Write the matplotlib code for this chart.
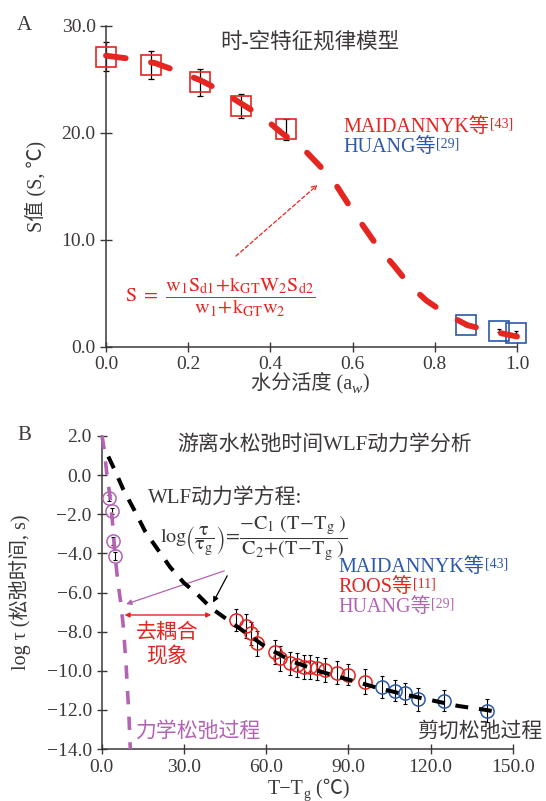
import matplotlib
matplotlib.use("Agg")
import matplotlib.pyplot as plt

plt.rcParams['font.family'] = ['Liberation Serif', 'Noto Sans CJK SC', 'DejaVu Sans']
plt.rcParams['mathtext.fontset'] = 'stix'
plt.rcParams['axes.unicode_minus'] = True

RED = '#e5251f'
BLUE = '#2b58a8'
PURPLE = '#b463b4'
DARK = '#3d3838'

# ---- panel A data ----
maid_aw = [0.0, 0.109, 0.229, 0.329, 0.439]
maid_s = [27.1, 26.3, 24.7, 22.5, 20.3]
maid_err = [1.35, 1.3, 1.25, 1.15, 1.0]
huang_aw = [0.877, 0.957, 0.998]
huang_s = [2.05, 1.5, 1.3]
huang_err = [0.15, 0.15, 0.15]
model_aw = [0.0, 0.06, 0.12, 0.17, 0.23, 0.28, 0.33, 0.38, 0.43, 0.48, 0.52, 0.56,
            0.59, 0.62, 0.66, 0.70, 0.74, 0.78, 0.83, 0.88, 0.95, 1.0]
model_s = [27.2, 26.9, 26.5, 25.8, 24.9, 23.9, 22.7, 21.5, 19.9, 18.5, 16.9, 15.1,
           13.3, 11.6, 9.4, 7.6, 5.7, 4.3, 3.0, 2.0, 1.35, 0.95]
a_xticks = [0.0, 0.2, 0.4, 0.6, 0.8, 1.0]
a_yticks = [0.0, 10.0, 20.0, 30.0]

# ---- panel B data ----
roos_t = [49.1, 52.8, 54.5, 56.7, 63.3, 65.2, 68.8, 71.2, 73.7, 76.1, 78.5, 81.5, 85.8, 90.0, 96.1]
roos_v = [-7.41, -7.71, -8.09, -8.6, -9.03, -9.37, -9.62, -9.71, -9.8, -9.8, -9.88, -9.96,
          -10.1, -10.2, -10.56]
roos_err = [0.55, 0.6, 0.6, 0.65, 0.6, 0.65, 0.6, 0.6, 0.6, 0.6, 0.6, 0.6, 0.6, 0.55, 0.65]
maidb_t = [102.2, 107.0, 110.7, 115.2, 125.0, 140.4]
maidb_v = [-10.82, -11.02, -11.16, -11.46, -11.53, -12.04]
maidb_err = [0.55, 0.55, 0.55, 0.6, 0.55, 0.6]
huangb_t = [2.9, 3.9, 4.1, 4.8]
huangb_v = [-1.19, -1.83, -3.37, -4.13]
huangb_err = [0.15, 0.15, 0.2, 0.2]
wlf_t = [2.5, 5, 8, 12, 16, 20, 25, 30, 35, 40, 45, 50, 55, 60, 70, 80, 90, 100, 110,
         120, 130, 140, 146]
wlf_v = [0.95, 0.2, -0.75, -1.8, -2.9, -3.7, -4.7, -5.5, -6.1, -6.8, -7.3, -7.8, -8.3,
         -8.8, -9.55, -10.05, -10.45, -10.85, -11.2, -11.5, -11.8, -12.0, -12.15]
mech_t = [0.2, 1.0, 2.0, 3.0, 4.0, 5.0, 6.0, 7.0, 8.0, 9.0, 10.0, 10.5]
mech_v = [2.0, 1.3, 0.0, -1.0, -2.4, -4.2, -5.5, -6.5, -7.8, -9.8, -12.3, -14.0]
b_xticks = [0.0, 30.0, 60.0, 90.0, 120.0, 150.0]
b_yticks = [2.0, 0.0, -2.0, -4.0, -6.0, -8.0, -10.0, -12.0, -14.0]

W, H = 546, 801


def px(x, y):
    return x / W, 1 - y / H


def style_axes(ax):
    for s in ['top', 'right']:
        ax.spines[s].set_visible(False)
    for s in ['left', 'bottom']:
        ax.spines[s].set_color(DARK)
        ax.spines[s].set_linewidth(1.1)
    ax.tick_params(direction='inout', length=7, width=1.0, color=DARK,
                   labelcolor=DARK, labelsize=14)


def after(ax, prev, s, size, color, sup=False, sub=False, **kw):
    # put a piece of text right after another one (for super/subscripts)
    if sup:
        return ax.annotate(s, xy=(1, 1), xycoords=prev, xytext=(0.5, 0.5),
                           textcoords='offset points', ha='left', va='top',
                           fontsize=size, color=color, annotation_clip=False, **kw)
    if sub:
        return ax.annotate(s, xy=(1, 0), xycoords=prev, xytext=(0, -1.5),
                           textcoords='offset points', ha='left', va='bottom',
                           fontsize=size, color=color, annotation_clip=False, **kw)
    return ax.annotate(s, xy=(1, 0), xycoords=prev, ha='left', va='bottom',
                       fontsize=size, color=color, annotation_clip=False, **kw)


fig = plt.figure(figsize=(W / 100, H / 100), dpi=100)

# ================= panel A =================
axA = fig.add_axes([106 / W, 1 - 346.7 / H, (517 - 106) / W, (346.7 - 25.7) / H])
style_axes(axA)
axA.set_xlim(0, 1.0)
axA.set_ylim(0, 30)
axA.set_xticks(a_xticks)
axA.set_yticks(a_yticks)
axA.xaxis.set_major_formatter('{x:.1f}')
axA.yaxis.set_major_formatter('{x:.1f}')
axA.tick_params(axis='y', length=8)

axA.errorbar(maid_aw, maid_s, yerr=maid_err, fmt='none', ecolor='black', elinewidth=0.9,
             capsize=2, capthick=0.9, zorder=2, clip_on=False)
axA.errorbar(huang_aw, huang_s, yerr=huang_err, fmt='none', ecolor='black', elinewidth=0.9,
             capsize=1.5, capthick=0.9, zorder=2, clip_on=False)
axA.plot(maid_aw, maid_s, 's', ms=15, mfc='none', mec=RED, mew=1.2, zorder=3, clip_on=False)
axA.plot(huang_aw, huang_s, 's', ms=15, mfc='none', mec=BLUE, mew=1.2, zorder=3, clip_on=False)
axA.plot(model_aw, model_s, color=RED, lw=4.2, dashes=(3.4, 4.4), dash_capstyle='round',
         zorder=4, clip_on=False)

axA.annotate('', xy=(0.52, 15.3), xytext=(0.311, 8.3),
             arrowprops=dict(arrowstyle='->', color=RED, lw=0.9, linestyle=(0, (3, 2)),
                             mutation_scale=9))

fig.text(*px(17, 25), 'A', fontsize=15, color=DARK, ha='left', va='center')
fig.text(*px(310, 42), '时-空特征规律模型', fontsize=15.5, color=DARK, ha='center', va='center')
t = fig.text(*px(343, 128), 'MAIDANNYK等', fontsize=14.5, color=RED, ha='left', va='center')
after(axA, t, '[43]', 10, RED, sup=True)
t = fig.text(*px(343, 148), 'HUANG等', fontsize=14.5, color=BLUE, ha='left', va='center')
after(axA, t, '[29]', 10, BLUE, sup=True)
fig.text(*px(125, 297),
         r'$\mathrm{S\ =\ }\dfrac{\mathrm{w_1S_{d1}\!+\!k_{GT}W_2S_{d2}}}{\mathrm{w_1\!+\!k_{GT}w_2}}$',
         fontsize=14.5, color=RED, ha='left', va='center')
fig.text(*px(36, 186), 'S值 (S, ℃)', fontsize=14.5, color=DARK, rotation=90,
         ha='center', va='center')
t = fig.text(*px(251, 383), '水分活度 (a', fontsize=14.5, color=DARK, ha='left', va='center')
t = after(axA, t, 'w', 11, DARK, sub=True, fontstyle='italic')
after(axA, t, ')', 14.5, DARK, xytext=(0, 1.5), textcoords='offset points')

# ================= panel B =================
axB = fig.add_axes([101.5 / W, 1 - 749 / H, (513 - 101.5) / W, (749 - 436) / H])
style_axes(axB)
axB.set_xlim(0, 150)
axB.set_ylim(-14, 2)
axB.set_xticks(b_xticks)
axB.set_yticks(b_yticks)
axB.xaxis.set_major_formatter('{x:.1f}')
axB.yaxis.set_major_formatter('{x:.1f}')

axB.errorbar(roos_t, roos_v, yerr=roos_err, fmt='none', ecolor='black', elinewidth=0.8,
             capsize=1.5, capthick=0.8, zorder=2)
axB.errorbar(maidb_t, maidb_v, yerr=maidb_err, fmt='none', ecolor='black', elinewidth=0.8,
             capsize=1.5, capthick=0.8, zorder=2)
axB.errorbar(huangb_t, huangb_v, yerr=huangb_err, fmt='none', ecolor='black', elinewidth=0.8,
             capsize=1.2, capthick=0.8, zorder=2)
axB.plot(roos_t, roos_v, 'o', ms=9.5, mfc='none', mec=RED, mew=1.1, zorder=3)
axB.plot(maidb_t, maidb_v, 'o', ms=9.5, mfc='none', mec=BLUE, mew=1.1, zorder=3)
axB.plot(huangb_t, huangb_v, 'o', ms=9.5, mfc='none', mec=PURPLE, mew=1.1, zorder=3)
axB.plot(mech_t, mech_v, color=PURPLE, lw=2.6, dashes=(3.7, 3.4), zorder=4, clip_on=False)
axB.plot(wlf_t, wlf_v, color='black', lw=2.9, dashes=(3.2, 2.7), zorder=4)

axB.annotate('', xy=(40.2, -6.64), xytext=(46.3, -5.02),
             arrowprops=dict(arrowstyle='-|>', color='black', lw=0.9, mutation_scale=8))
axB.annotate('', xy=(8.0, -6.64), xytext=(45.7, -4.85),
             arrowprops=dict(arrowstyle='-|>', color=PURPLE, lw=0.9, mutation_scale=8))
axB.annotate('', xy=(8.4, -7.15), xytext=(40.0, -7.15),
             arrowprops=dict(arrowstyle='<|-|>', color=RED, lw=1.0, mutation_scale=7,
                             shrinkA=0, shrinkB=0))

fig.text(*px(17, 436), 'B', fontsize=15, color=DARK, ha='left', va='center')
fig.text(*px(324, 445), '游离水松弛时间WLF动力学分析', fontsize=15, color=DARK,
         ha='center', va='center')
fig.text(*px(148, 498), 'WLF动力学方程:', fontsize=15, color=DARK, ha='left', va='center')
fig.text(*px(160, 538),
         r'$\mathrm{log}\genfrac{(}{)}{0.7}{0}{\mathrm{τ}}{\mathrm{τ_g}}\!=\!\dfrac{-\mathrm{C_1\ (T\!-\!T_g\ )}}{\mathrm{C_2\!+\!(T\!-\!T_g\ )}}$',
         fontsize=14.5, color=DARK, ha='left', va='center')
t = fig.text(*px(338, 568), 'MAIDANNYK等', fontsize=14.5, color=BLUE, ha='left', va='center')
after(axB, t, '[43]', 10, BLUE, sup=True)
t = fig.text(*px(338, 588), 'ROOS等', fontsize=14.5, color=RED, ha='left', va='center')
after(axB, t, '[11]', 10, RED, sup=True)
t = fig.text(*px(338, 608), 'HUANG等', fontsize=14.5, color=PURPLE, ha='left', va='center')
after(axB, t, '[29]', 10, PURPLE, sup=True)
fig.text(*px(167, 633), '去耦合', fontsize=15, color=RED, ha='center', va='center')
fig.text(*px(167, 657), '现象', fontsize=15, color=RED, ha='center', va='center')
fig.text(*px(136, 732), '力学松弛过程', fontsize=15, color=PURPLE, ha='left', va='center')
fig.text(*px(543, 732), '剪切松弛过程', fontsize=15, color=DARK, ha='right', va='center')
fig.text(*px(20, 592), 'log τ (松弛时间, s)', fontsize=14.5, color=DARK, rotation=90,
         ha='center', va='center')
t = fig.text(*px(268, 789), 'T−T', fontsize=14.5, color=DARK, ha='left', va='center')
t = after(axB, t, 'g', 10, DARK, sub=True)
after(axB, t, ' (℃)', 14.5, DARK, xytext=(0, 1.5), textcoords='offset points')

fig.savefig('out.png', dpi=100)
